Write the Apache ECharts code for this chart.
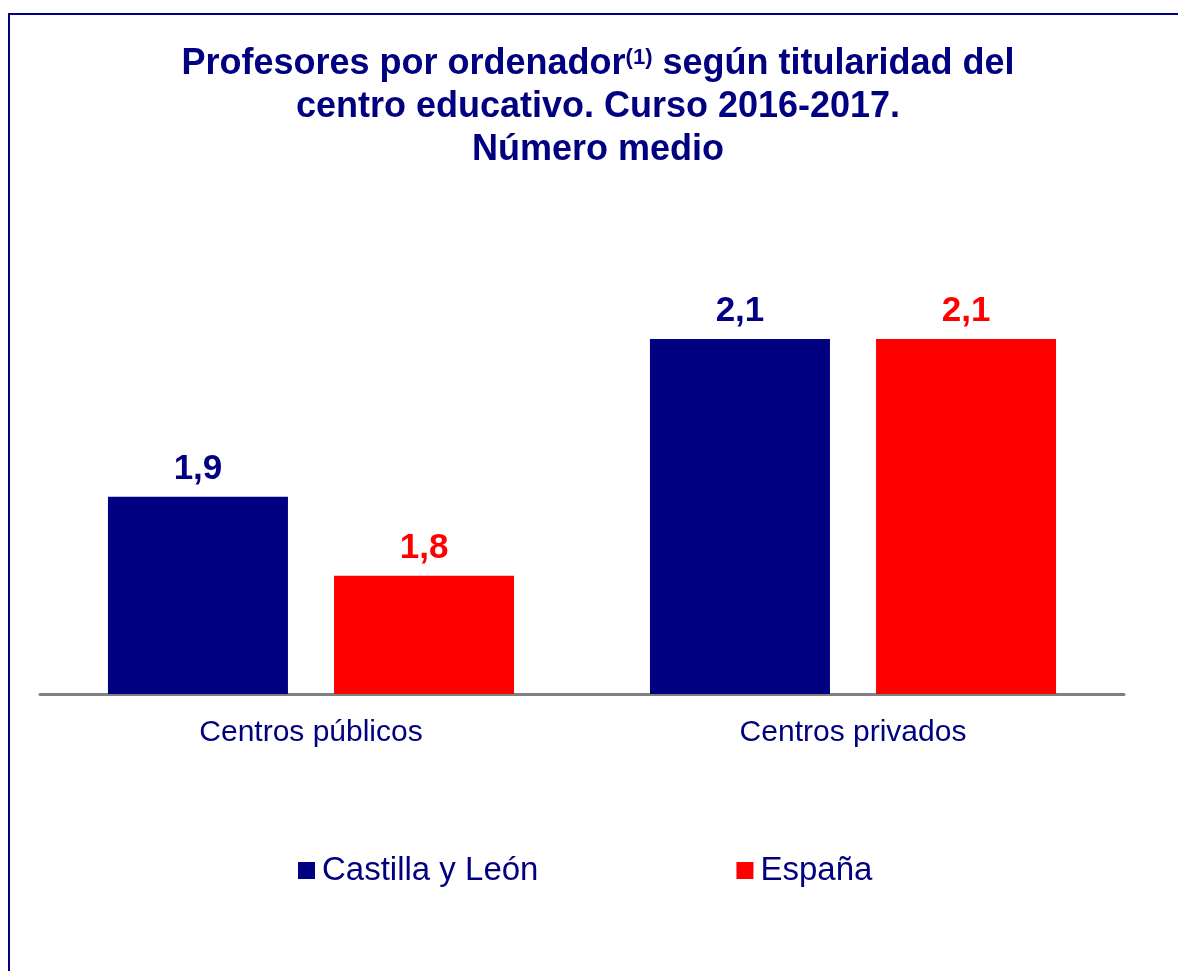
<!DOCTYPE html>
<html>
<head>
<meta charset="utf-8">
<script src="https://cdn.jsdelivr.net/npm/echarts@6/dist/echarts.min.js"></script>
<style>
  html, body { margin: 0; padding: 0; background: #fff; }
  #chart { width: 1178px; height: 971px; }
</style>
</head>
<body>
<div id="chart"></div>
<script>
// datos del gráfico
const categorias = ['Centros públicos', 'Centros privados'];
const castillaLeon = [1.9, 2.1];
const espana = [1.8, 2.1];
const nombresSeries = ['Castilla y León', 'España'];

const AZUL = '#000080';
const ROJO = '#ff0000';
const FUENTE = '"Liberation Sans", Arial, sans-serif';

const chart = echarts.init(document.getElementById('chart'));

function etiqueta(color) {
    return {
        show: true,
        position: 'top',
        distance: 10,
        color: color,
        fontSize: 35,
        fontWeight: 'bold',
        fontFamily: FUENTE,
        formatter: p => p.value.toFixed(1).replace('.', ',')
    };
}

chart.setOption({
    backgroundColor: '#fff',
    animation: false,
    title: {
        text: '{a|Profesores por ordenador}{s|(1)}{a| según titularidad del}\n{a|centro educativo. Curso 2016-2017.}\n{a|Número medio}',
        left: 598,
        top: 43,
        padding: 0,
        textAlign: 'center',
        textStyle: {
            rich: {
                a: { fontSize: 36, fontWeight: 'bold', color: AZUL, fontFamily: FUENTE, lineHeight: 43 },
                s: { fontSize: 22, fontWeight: 'bold', color: AZUL, fontFamily: FUENTE, lineHeight: 43, verticalAlign: 'top', padding: [4, 0, 0, 0] }
            }
        }
    },
    legend: {
        left: 298,
        top: 854,
        padding: 0,
        itemWidth: 17,
        itemHeight: 17,
        itemGap: 198,
        icon: 'rect',
        data: nombresSeries,
        textStyle: { fontSize: 33, color: AZUL, fontFamily: FUENTE, padding: [0, 0, 0, 2] }
    },
    grid: { left: 40, right: 54, top: 260, bottom: 277 },
    xAxis: {
        type: 'category',
        data: categorias,
        axisLine: { lineStyle: { color: '#808080', width: 3 } },
        axisTick: { show: false },
        axisLabel: { fontSize: 30, color: AZUL, fontFamily: FUENTE, margin: 24 }
    },
    yAxis: {
        type: 'value',
        min: 1.65,
        max: 2.2,
        show: false,
        splitLine: { show: false }
    },
    series: [
        {
            name: nombresSeries[0],
            type: 'bar',
            data: castillaLeon,
            barWidth: 180,
            barGap: '25.6%',
            itemStyle: { color: AZUL },
            label: etiqueta(AZUL)
        },
        {
            name: nombresSeries[1],
            type: 'bar',
            data: espana,
            barWidth: 180,
            itemStyle: { color: ROJO },
            label: etiqueta(ROJO)
        }
    ],
    graphic: [{
        type: 'rect',
        shape: { x: 9, y: 14, width: 1300, height: 1100 },
        style: { fill: null, stroke: AZUL, lineWidth: 2 },
        silent: true
    }]
});
</script>
</body>
</html>
